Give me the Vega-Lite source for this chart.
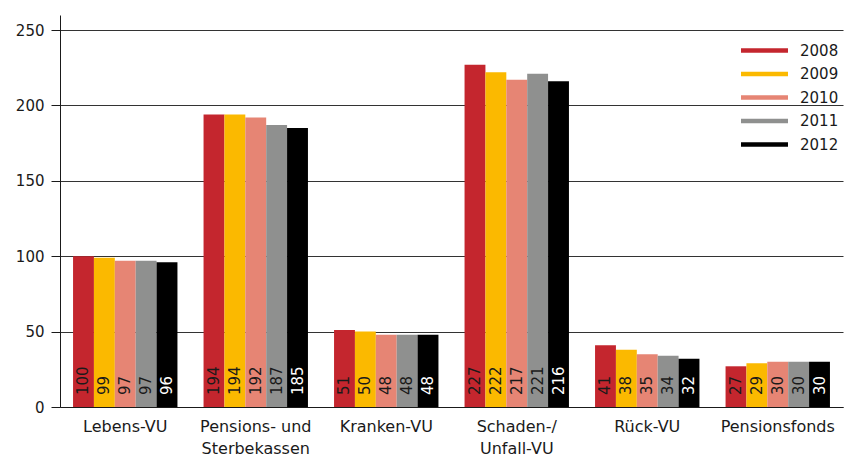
{
  "$schema": "https://vega.github.io/schema/vega-lite/v6.json",
  "autosize": "none",
  "width": 783,
  "height": 392,
  "padding": {"left": 60, "top": 15, "right": 10, "bottom": 53},
  "background": "white",
  "config": {
    "font": "DejaVu Sans",
    "view": {"stroke": null},
    "axis": {"labelFont": "DejaVu Sans", "labelFontSize": 15, "labelColor": "#1a1a1a", "titleFontSize": 15}
  },
  "data": {
    "values": [
      {"cat": "Lebens-VU", "year": "2008", "value": 100},
      {"cat": "Lebens-VU", "year": "2009", "value": 99},
      {"cat": "Lebens-VU", "year": "2010", "value": 97},
      {"cat": "Lebens-VU", "year": "2011", "value": 97},
      {"cat": "Lebens-VU", "year": "2012", "value": 96},
      {"cat": "Pensions- und|Sterbekassen", "year": "2008", "value": 194},
      {"cat": "Pensions- und|Sterbekassen", "year": "2009", "value": 194},
      {"cat": "Pensions- und|Sterbekassen", "year": "2010", "value": 192},
      {"cat": "Pensions- und|Sterbekassen", "year": "2011", "value": 187},
      {"cat": "Pensions- und|Sterbekassen", "year": "2012", "value": 185},
      {"cat": "Kranken-VU", "year": "2008", "value": 51},
      {"cat": "Kranken-VU", "year": "2009", "value": 50},
      {"cat": "Kranken-VU", "year": "2010", "value": 48},
      {"cat": "Kranken-VU", "year": "2011", "value": 48},
      {"cat": "Kranken-VU", "year": "2012", "value": 48},
      {"cat": "Schaden-/|Unfall-VU", "year": "2008", "value": 227},
      {"cat": "Schaden-/|Unfall-VU", "year": "2009", "value": 222},
      {"cat": "Schaden-/|Unfall-VU", "year": "2010", "value": 217},
      {"cat": "Schaden-/|Unfall-VU", "year": "2011", "value": 221},
      {"cat": "Schaden-/|Unfall-VU", "year": "2012", "value": 216},
      {"cat": "Rück-VU", "year": "2008", "value": 41},
      {"cat": "Rück-VU", "year": "2009", "value": 38},
      {"cat": "Rück-VU", "year": "2010", "value": 35},
      {"cat": "Rück-VU", "year": "2011", "value": 34},
      {"cat": "Rück-VU", "year": "2012", "value": 32},
      {"cat": "Pensionsfonds", "year": "2008", "value": 27},
      {"cat": "Pensionsfonds", "year": "2009", "value": 29},
      {"cat": "Pensionsfonds", "year": "2010", "value": 30},
      {"cat": "Pensionsfonds", "year": "2011", "value": 30},
      {"cat": "Pensionsfonds", "year": "2012", "value": 30}
    ]
  },
  "encoding": {
    "x": {
      "field": "cat", "type": "nominal", "sort": null,
      "scale": {"paddingInner": 0.2, "paddingOuter": 0.1},
      "axis": {"title": null, "labelAngle": 0, "ticks": false, "domain": true, "domainColor": "#1a1a1a", "domainWidth": 1,
               "labelPadding": 11, "labelLineHeight": 22, "labelBaseline": "top", "labelFontSize": 16,
               "labelExpr": "split(datum.label, '|')"}
    },
    "xOffset": {"field": "year", "type": "nominal", "sort": null, "scale": {"paddingInner": 0, "paddingOuter": 0}}
  },
  "layer": [
    {
      "mark": {"type": "bar", "y2Offset": -3},
      "encoding": {
        "y": {
          "field": "value", "type": "quantitative",
          "scale": {"domain": [0, 250]},
          "axis": {"title": null, "values": [0, 50, 100, 150, 200, 250], "grid": true, "gridColor": "#333333", "gridWidth": 1,
                   "domainColor": "#1a1a1a", "tickColor": "#1a1a1a", "tickSize": 9, "labelPadding": 7}
        },
        "color": {
          "field": "year", "type": "nominal",
          "scale": {"domain": ["2008", "2009", "2010", "2011", "2012"],
                    "range": ["#c4262e", "#fbb900", "#e68574", "#8f908f", "#000000"]},
          "legend": {
            "title": null, "orient": "none", "legendX": 697, "legendY": 28,
            "symbolType": "M-4,-0.4H4V0.4H-4Z", "symbolSize": 138, "symbolStrokeWidth": 0,
            "labelFontSize": 15, "labelColor": "#1a1a1a", "rowPadding": 7.5, "labelOffset": 28
          }
        }
      }
    },
    {
      "mark": {"type": "text", "angle": 270, "align": "left", "baseline": "middle", "dx": 12, "fontSize": 15},
      "encoding": {
        "y": {"datum": 0, "type": "quantitative"},
        "text": {"field": "value", "type": "quantitative"},
        "color": {"condition": {"test": "datum.year === '2012'", "value": "white"}, "value": "#1a1a1a"}
      }
    }
  ]
}
